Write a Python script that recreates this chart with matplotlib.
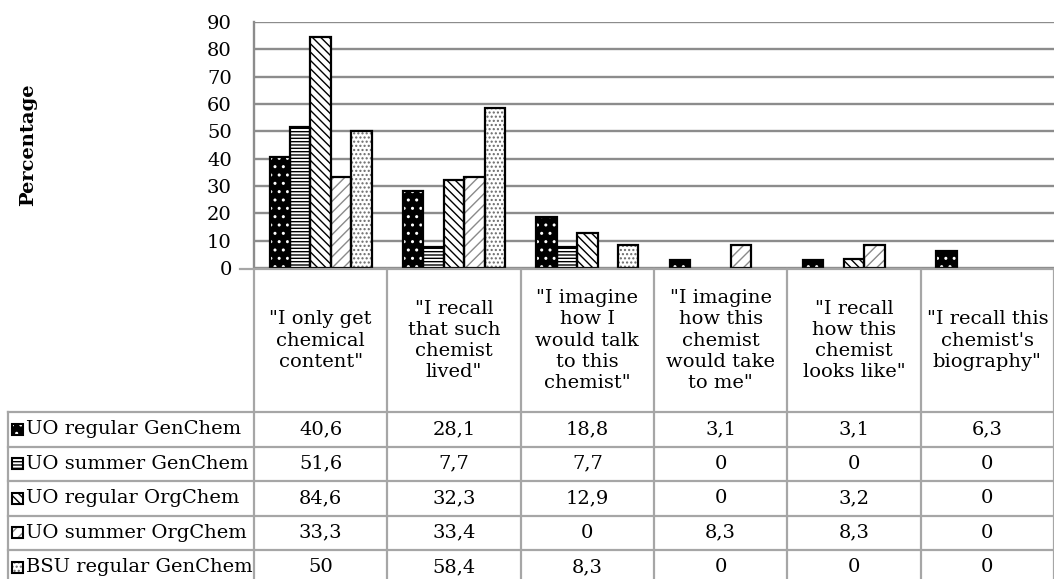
import matplotlib
matplotlib.use("Agg")
import matplotlib.pyplot as plt
from matplotlib.patches import Rectangle
import numpy as np

plt.rcParams['font.family'] = ['DejaVu Serif']
plt.rcParams['hatch.linewidth'] = 1.0

categories = ['"I only get\nchemical\ncontent"',
              '"I recall\nthat such\nchemist\nlived"',
              '"I imagine\nhow I\nwould talk\nto this\nchemist"',
              '"I imagine\nhow this\nchemist\nwould take\nto me"',
              '"I recall\nhow this\nchemist\nlooks like"',
              '"I recall this\nchemist\'s\nbiography"']
series_names = ['UO regular GenChem', 'UO summer GenChem', 'UO regular OrgChem',
                'UO summer OrgChem', 'BSU regular GenChem']
uo_regular_genchem = [40.6, 28.1, 18.8, 3.1, 3.1, 6.3]
uo_summer_genchem = [51.6, 7.7, 7.7, 0, 0, 0]
uo_regular_orgchem = [84.6, 32.3, 12.9, 0, 3.2, 0]
uo_summer_orgchem = [33.3, 33.4, 0, 8.3, 8.3, 0]
bsu_regular_genchem = [50, 58.4, 8.3, 0, 0, 0]
series_values = [uo_regular_genchem, uo_summer_genchem, uo_regular_orgchem,
                 uo_summer_orgchem, bsu_regular_genchem]
yticks = [0, 10, 20, 30, 40, 50, 60, 70, 80, 90]

# styles: (face, hatch, hatch colour)
styles = [('black', '..', 'white'),
          ('white', '-----', 'black'),
          ('white', '\\\\\\\\', 'black'),
          ('white', '///', '#8a8a8a'),
          ('white', '....', '#6a6a6a')]

W, H = 1054, 579
fig = plt.figure(figsize=(W / 100, H / 100), dpi=100)

x0, xr = 254, 1054
ytop, ybot = 22, 268
ax = fig.add_axes([x0 / W, 1 - ybot / H, (xr - x0) / W, (ybot - ytop) / H])
ax.set_xlim(-0.5, len(categories) - 0.5)
ax.set_ylim(0, 90)
ax.set_yticks(yticks)
ax.set_axisbelow(True)
ax.grid(axis='y', color='#8c8c8c', linewidth=1.7)
for s in ['top', 'right', 'bottom']:
    ax.spines[s].set_visible(False)
ax.spines['left'].set_color('#8c8c8c')
ax.spines['left'].set_linewidth(1.7)
ax.set_xticks([])
ax.tick_params(axis='y', length=0, pad=16, labelsize=14)
ax.set_ylabel('Percentage', fontsize=14, fontweight='bold', labelpad=0)
ax.yaxis.set_label_coords(-(254 - 37) / (xr - x0), 0.5)

x = np.arange(len(categories))
bw = 0.153
for j, vals in enumerate(series_values):
    face, hatch, hcol = styles[j]
    pos = x + (j - 2) * bw
    edge_lw = [1.6 if v > 0 else 0 for v in vals]
    ax.bar(pos, vals, bw, color=face, edgecolor=hcol, hatch=hatch, linewidth=0, zorder=2)
    ax.bar(pos, vals, bw, fill=False, edgecolor='black', linewidth=edge_lw, zorder=3)

# table drawn in pixel coordinates
tab = fig.add_axes([0, 0, 1, 1], facecolor='none')
tab.set_xlim(0, W)
tab.set_ylim(H, 0)
tab.axis('off')
lc = '#a6a6a6'
lw = 1.6
colw = (xr - x0) / len(categories)
header_top, header_bot = 269, 412
rowh = 34.5
row_lines = [header_bot + k * rowh for k in range(len(series_names) + 1)]
tab.plot([x0 - 14, W], [header_top, header_top], color=lc, lw=lw)
for yl in row_lines:
    tab.plot([8, W], [yl, yl], color=lc, lw=lw)
tab.plot([8, 8], [header_bot, H + 10], color=lc, lw=lw)
for k in range(len(categories) + 1):
    xv = x0 + k * colw
    tab.plot([xv, xv], [header_top, H + 10], color=lc, lw=lw)

for i, cat in enumerate(categories):
    cx = x0 + (i + 0.5) * colw
    tab.text(cx, (header_top + header_bot) / 2, cat, ha='center', va='center',
             fontsize=14, linespacing=1.22)

for j, name in enumerate(series_names):
    yc = row_lines[j] + rowh / 2
    face, hatch, hcol = styles[j]
    tab.add_patch(Rectangle((12, yc - 5.5), 11, 11, facecolor=face, edgecolor=hcol,
                            hatch=hatch, linewidth=0))
    tab.add_patch(Rectangle((12, yc - 5.5), 11, 11, fill=False, edgecolor='black',
                            linewidth=1.5))
    tab.text(26, yc, name, ha='left', va='center', fontsize=14)
    for i, v in enumerate(series_values[j]):
        cx = x0 + (i + 0.5) * colw
        tab.text(cx, yc, f"{v:g}".replace('.', ','), ha='center', va='center', fontsize=14)

fig.savefig('out.png', dpi=100)
